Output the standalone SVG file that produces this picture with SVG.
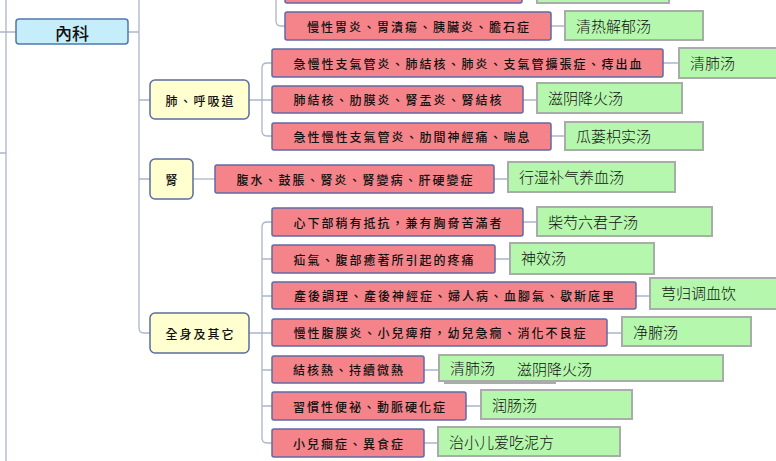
<svg xmlns="http://www.w3.org/2000/svg" width="776" height="461" viewBox="0 0 776 461">
<style>
.cn{fill:none;stroke:#aab6cc;stroke-width:1.3}
.r{fill:#f4848a;stroke:#5d6aa8;stroke-width:1.5}
.g{fill:#b6f7ae;stroke:#a9ada9;stroke-width:2}
.y{fill:#ffffcf;stroke:#5b6c9e;stroke-width:1.5}
.b{fill:#c6eefa;stroke:#4f78ad;stroke-width:1.5}
.rt{font-family:"Noto Sans CJK TC","Noto Sans CJK SC",sans-serif;font-size:12px;font-weight:500;letter-spacing:2px;fill:#111;text-anchor:middle;dominant-baseline:central}
.gt{font-family:"Noto Sans CJK SC",sans-serif;font-size:15px;font-weight:300;fill:#111;dominant-baseline:central}
.kt{font-family:"Noto Sans CJK TC","Noto Sans CJK SC",sans-serif;font-size:17px;font-weight:500;fill:#111;text-anchor:middle;dominant-baseline:central}
</style>
<rect width="776" height="461" fill="#fff"/>
<g id="connectors">
<path class="cn" d="M6,0 V461 M0,32 H16 M0,153 H6"/>
<path class="cn" d="M128,32 H139 M139,0 V328 Q139,333 144,333 H150 M139,100 H150 M139,179 H150"/>
<path class="cn" d="M276,0 V21 Q276,26 281,26 H285"/>
<path class="cn" d="M249,100 H272 M272,63 H267 Q262,63 262,68 V131 Q262,136 267,136 H272"/>
<path class="cn" d="M193,179 H215"/>
<path class="cn" d="M249,333 H272 M272,222 H267 Q262,222 262,227 V438 Q262,443 267,443 H272 M262,259 H272 M262,296 H272 M262,370 H272 M262,406 H272"/>
<path class="cn" d="M551,26 H565 M663,63 H679 M523,100 H537 M551,136 H565 M494,179 H508 M523,222 H537 M495,259 H510 M636,296 H650 M607,333 H622 M424,370 H439 M466,406 H481 M424,443 H438"/>
</g>
<g id="node-neike"><rect class="b" x="16" y="19" width="112" height="25" rx="3"/><text class="kt" x="72" y="32">內科</text></g>
<g id="node-top-red"><rect class="r" x="285" y="-25" width="237" height="28" rx="2"/></g>
<g id="node-top-green"><rect class="g" x="537" y="-25" width="132" height="28"/></g>
<g id="node-stomach"><rect class="r" x="285" y="12" width="266" height="28" rx="2"/><text class="rt" x="419" y="26">慢性胃炎、胃潰瘍、胰臟炎、膽石症</text></g>
<g id="rx-qingre"><rect class="g" x="565" y="11" width="138" height="29"/><text class="gt" x="576" y="25.5">清热解郁汤</text></g>
<g id="cat-lung"><rect class="y" x="150" y="80" width="99" height="39" rx="5"/><text class="rt" x="200.5" y="100">肺、呼吸道</text></g>
<g id="node-lung1"><rect class="r" x="272" y="49" width="391" height="28" rx="2"/><text class="rt" x="468.5" y="63">急慢性支氣管炎、肺結核、肺炎、支氣管擴張症、痔出血</text></g>
<g id="rx-qingfei"><rect class="g" x="679" y="48" width="111" height="30"/><text class="gt" x="690" y="62.5">清肺汤</text></g>
<g id="node-lung2"><rect class="r" x="272" y="86" width="251" height="27" rx="2"/><text class="rt" x="398.5" y="99.5">肺結核、肋膜炎、腎盂炎、腎結核</text></g>
<g id="rx-ziyin"><rect class="g" x="537" y="83" width="145" height="30"/><text class="gt" x="548" y="97.5">滋阴降火汤</text></g>
<g id="node-lung3"><rect class="r" x="272" y="123" width="279" height="27" rx="2"/><text class="rt" x="412.5" y="136.5">急性慢性支氣管炎、肋間神經痛、喘息</text></g>
<g id="rx-gualou"><rect class="g" x="565" y="122" width="138" height="28"/><text class="gt" x="576" y="135.5">瓜蒌枳实汤</text></g>
<g id="cat-kidney"><rect class="y" x="150" y="159" width="43" height="40" rx="5"/><text class="rt" x="172.5" y="179">腎</text></g>
<g id="node-kidney"><rect class="r" x="215" y="165" width="279" height="28" rx="2"/><text class="rt" x="355.5" y="179">腹水、鼓脹、腎炎、腎變病、肝硬變症</text></g>
<g id="rx-xingshi"><rect class="g" x="508" y="162" width="167" height="30"/><text class="gt" x="519" y="176.5">行湿补气养血汤</text></g>
<g id="cat-whole"><rect class="y" x="150" y="313" width="99" height="40" rx="5"/><text class="rt" x="200.5" y="333">全身及其它</text></g>
<g id="node-w1"><rect class="r" x="272" y="208" width="251" height="28" rx="2"/><text class="rt" x="398.5" y="222">心下部稍有抵抗，兼有胸脅苦滿者</text></g>
<g id="rx-chaishao"><rect class="g" x="537" y="207" width="175" height="29"/><text class="gt" x="548" y="221">柴芍六君子汤</text></g>
<g id="node-w2"><rect class="r" x="272" y="245" width="223" height="28" rx="2"/><text class="rt" x="384.5" y="259">疝氣、腹部癒著所引起的疼痛</text></g>
<g id="rx-shenxiao"><rect class="g" x="510" y="243" width="144" height="31"/><text class="gt" x="521" y="257">神效汤</text></g>
<g id="node-w3"><rect class="r" x="272" y="282" width="364" height="27" rx="2"/><text class="rt" x="455" y="295.5">產後調理、產後神經症、婦人病、血腳氣、歇斯底里</text></g>
<g id="rx-xionggui"><rect class="g" x="650" y="278" width="140" height="31"/><text class="gt" x="661" y="292">芎归调血饮</text></g>
<g id="node-w4"><rect class="r" x="272" y="319" width="335" height="27" rx="2"/><text class="rt" x="440.5" y="332.5">慢性腹膜炎、小兒痺疳，幼兒急癇、消化不良症</text></g>
<g id="rx-jingfu"><rect class="g" x="622" y="317" width="129" height="29"/><text class="gt" x="633" y="331">净腑汤</text></g>
<g id="node-w5"><rect class="r" x="272" y="356" width="152" height="27" rx="2"/><text class="rt" x="349" y="369.5">結核熱、持續微熱</text></g>
<g id="rx-w5"><rect class="g" x="445" y="362" width="110" height="21"/><rect class="g" x="439" y="355" width="284" height="26"/><text class="gt" x="450" y="367.5">清肺汤<tspan x="517">滋阴降火汤</tspan></text></g>
<g id="node-w6"><rect class="r" x="272" y="392" width="194" height="28" rx="2"/><text class="rt" x="370" y="406">習慣性便祕、動脈硬化症</text></g>
<g id="rx-runchang"><rect class="g" x="481" y="390" width="151" height="29"/><text class="gt" x="492" y="404">润肠汤</text></g>
<g id="node-w7"><rect class="r" x="272" y="429" width="152" height="28" rx="2"/><text class="rt" x="349" y="443">小兒癎症、異食症</text></g>
<g id="rx-zhixiao"><rect class="g" x="438" y="427" width="182" height="29"/><text class="gt" x="449" y="441">治小儿爱吃泥方</text></g>
</svg>
